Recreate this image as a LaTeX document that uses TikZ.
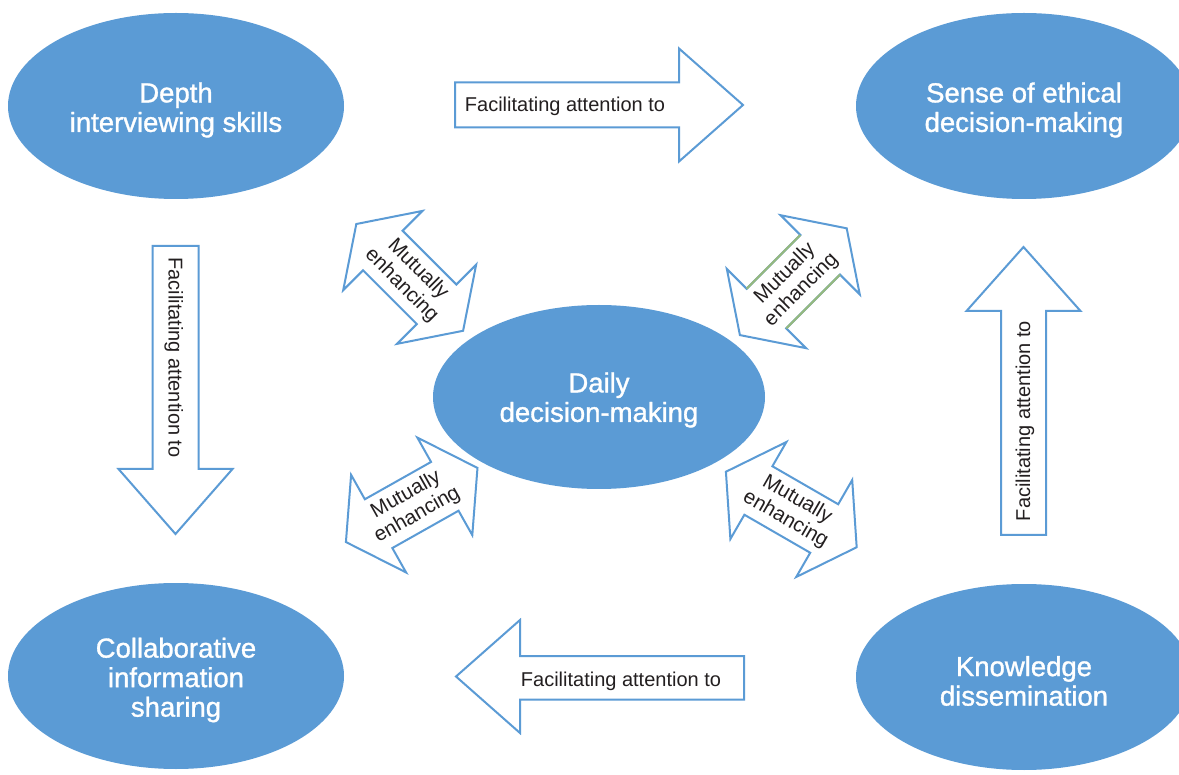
\documentclass[tikz,border=0pt]{standalone}
\usepackage{fontspec}
\setmainfont{Liberation Sans}
\newfontfamily\bubblefont[FakeBold=1.2]{Liberation Sans}
\usetikzlibrary{shapes.geometric}
\definecolor{bubblue}{RGB}{91,155,213}
\definecolor{inkgray}{RGB}{35,31,32}
\definecolor{sage}{RGB}{150,185,125}

% two-headed block arrow, drawn along the local x axis
\tikzset{
  dblarrow/.pic={
    \draw[blockarrow] (-75.5,0) -- (-38,-56) -- (-38,-28) -- (38,-28) -- (38,-56)
      -- (75.5,0) -- (38,56) -- (38,28) -- (-38,28) -- (-38,56) -- cycle;
  }
}

\begin{document}
\begin{tikzpicture}[x=1pt, y=-1pt,
  bubble/.style={ellipse, fill=bubblue, inner sep=0pt,
    minimum width=336pt, minimum height=186pt},
  bubbletext/.style={text=white, inner sep=0pt, align=center, yshift=-4pt,
    font=\bubblefont\fontsize{27.5}{29.5}\selectfont},
  blockarrow/.style={draw=bubblue, line width=2pt, fill=white, line join=miter},
  arrowlabel/.style={text=inkgray, inner sep=0pt, font=\fontsize{20}{22}\selectfont},
  pairlabel/.style={text=inkgray, inner sep=0pt, align=center,
    font=\fontsize{20.5}{23}\selectfont},
]
\useasboundingbox (0,0) rectangle (1179,775);
\clip (0,0) rectangle (1179,775);
\fill[white] (0,0) rectangle (1179,775);

% the five topics
\node[bubble] (depth)  at (176,106)  {};
\node[bubble] (ethics) at (1024,106) {};
\node[bubble, minimum width=332pt, minimum height=184pt] (daily) at (599,397) {};
\node[bubble] (collab) at (176,676)  {};
\node[bubble] (dissem) at (1024,677) {};

\node[bubbletext] (depth-t)  at (depth.center)  {Depth\\interviewing skills};
\node[bubbletext] (ethics-t) at (ethics.center) {Sense of ethical\\decision-making};
\node[bubbletext, yshift=1pt] (daily-t) at (daily.center) {Daily\\decision-making};
\node[bubbletext] (collab-t) at (collab.center) {Collaborative\\information\\sharing};
\node[bubbletext] (dissem-t) at (dissem.center) {Knowledge\\dissemination};

% one-way block arrows
\draw[blockarrow] (455,82.5) -- (679,82.5) -- (679,48.5) -- (743,105) -- (679,161.5)
  -- (679,127.5) -- (455,127.5) -- cycle;
\node[arrowlabel, anchor=base] (fatop) at (565,111.5) {Facilitating attention to};

\draw[blockarrow] (152.5,246) -- (198.5,246) -- (198.5,469) -- (232.5,469) -- (175.5,534)
  -- (118.5,469) -- (152.5,469) -- cycle;
\node[arrowlabel, anchor=base, rotate=-90] (faleft) at (168.5,357.5) {Facilitating attention to};

\draw[blockarrow] (1001,535) -- (1001,311) -- (966.5,311) -- (1023.5,247) -- (1080.5,311)
  -- (1046,311) -- (1046,535) -- cycle;
\node[arrowlabel, anchor=base, rotate=90] (faright) at (1030,421) {Facilitating attention to};

\draw[blockarrow] (744,656) -- (744,699.5) -- (520,699.5) -- (520,733) -- (456,676.5)
  -- (520,620) -- (520,656) -- cycle;
\node[arrowlabel, anchor=base] (fabottom) at (621,686.5) {Facilitating attention to};

% two-way block arrows around the centre
\pic[rotate=-45] at (409.7,277.4) {dblarrow};
\node[pairlabel, rotate=-45] (mutnw) at (409.7,277.4) {Mutually\\enhancing};

\pic[rotate=45] at (793.3,281.7) {dblarrow};
\begin{scope}[shift={(793.3,281.7)}, rotate=45]
  \draw[sage, line width=2pt] (-38,-28) -- (38,-28) (-38,28) -- (38,28);
\end{scope}
\node[pairlabel, rotate=45] (mutne) at (793.3,281.7) {Mutually\\enhancing};

\pic[rotate=29.4] at (411.7,505) {dblarrow};
\node[pairlabel, rotate=29.4] (mutsw) at (411.7,505) {Mutually\\enhancing};

\pic[rotate=-30] at (791.3,509.5) {dblarrow};
\node[pairlabel, rotate=-30] (mutse) at (791.3,509.5) {Mutually\\enhancing};
\end{tikzpicture}
\end{document}
